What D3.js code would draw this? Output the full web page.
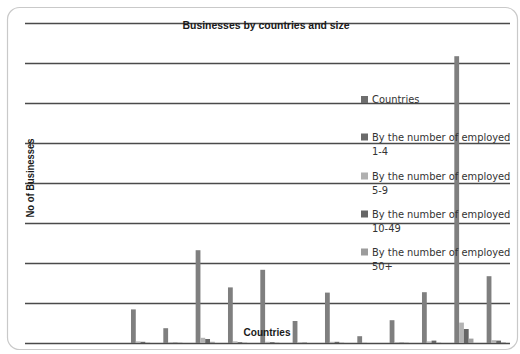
<!DOCTYPE html>
<html>
<head>
<meta charset="utf-8">
<script src="https://cdn.jsdelivr.net/npm/d3@7"></script>
<style>
  html, body { margin: 0; padding: 0; background: #fff; }
  svg { display: block; }
</style>
</head>
<body>
<svg id="chart" width="520" height="354"></svg>
<script>
// Businesses by country and size (values in hundreds of businesses)
const categories = ["1", "2", "3", "4", "5", "6", "7", "8", "9", "10", "11", "12", "13", "14", "15"];
const seriesNames = ["Countries", "By the number of employed 1-4", "By the number of employed 5-9",
                     "By the number of employed 10-49", "By the number of employed 50+"];
const legendLines = [["Countries"], ["By the number of employed", "1-4"], ["By the number of employed", "5-9"],
                     ["By the number of employed", "10-49"], ["By the number of employed", "50+"]];
const countries  = [0, 0, 0, 0, 0, 0, 0, 0, 0, 0, 0, 0, 0, 0, 0];
const emp1to4    = [0, 0, 0, 84, 37, 232, 139, 183, 55, 126, 17, 57, 127, 717, 167];
const emp5to9    = [0, 0, 0, 4, 2, 13, 4, 3, 2, 3, 1, 2, 4, 51, 7];
const emp10to49  = [0, 0, 0, 3, 1, 10, 2, 2, 1, 3, 0, 1, 6, 35, 6];
const emp50plus  = [0, 0, 0, 1, 1, 3, 1, 1, 0, 1, 0, 1, 1, 11, 2];
const gridTicks  = [0, 100, 200, 300, 400, 500, 600, 700, 800];

const seriesValues = [countries, emp1to4, emp5to9, emp10to49, emp50plus];
const barColors = ["#6e6e6e", "#7f7f7f", "#b4b4b4", "#666666", "#a0a0a0"];
const legendColors = ["#6e6e6e", "#6a6a6a", "#b0b0b0", "#666666", "#9c9c9c"];

const svg = d3.select("#chart");

// outer frame
svg.append("rect")
  .attr("x", 7.5).attr("y", 7.5).attr("width", 510).attr("height", 342)
  .attr("rx", 12).attr("ry", 12)
  .attr("fill", "#fff").attr("stroke", "#c9c9c9").attr("stroke-width", 1.2);

const x0 = d3.scaleBand().domain(categories).range([25, 510]).padding(0);
const x1 = d3.scaleBand().domain(d3.range(seriesNames.length))
  .range([4.2, x0.bandwidth() - 4.2]).padding(0);
const y = d3.scaleLinear().domain([0, 800]).range([343, 23]);

// horizontal gridlines
svg.append("g").selectAll("line").data(gridTicks).join("line")
  .attr("x1", 25).attr("x2", 510)
  .attr("y1", d => Math.round(y(d)) + 0.5).attr("y2", d => Math.round(y(d)) + 0.5)
  .attr("stroke", "#4a4a4a").attr("stroke-width", 1.3);

// clustered bars
const groups = svg.append("g").selectAll("g").data(categories).join("g")
  .attr("transform", c => `translate(${x0(c)},0)`);
groups.selectAll("rect")
  .data((c, ci) => seriesValues.map((vals, si) => ({ si, v: vals[ci] })))
  .join("rect")
  .attr("x", d => x1(d.si))
  .attr("width", x1.bandwidth())
  .attr("y", d => y(d.v))
  .attr("height", d => y(0) - y(d.v))
  .attr("fill", d => barColors[d.si]);

// title
svg.append("text")
  .attr("x", 266).attr("y", 28.5).attr("text-anchor", "middle")
  .attr("font-family", "Liberation Sans, Arial, sans-serif").attr("font-weight", "bold")
  .attr("font-size", 10).attr("fill", "#1a1a1a")
  .attr("textLength", 167).attr("lengthAdjust", "spacingAndGlyphs")
  .text("Businesses by countries and size");

// axis titles
svg.append("text")
  .attr("transform", "translate(34,178) rotate(-90)").attr("text-anchor", "middle")
  .attr("font-family", "Liberation Sans, Arial, sans-serif").attr("font-weight", "bold")
  .attr("font-size", 10).attr("fill", "#1a1a1a")
  .attr("textLength", 79).attr("lengthAdjust", "spacingAndGlyphs")
  .text("No of Businesses");
svg.append("text")
  .attr("x", 267).attr("y", 336).attr("text-anchor", "middle")
  .attr("font-family", "Liberation Sans, Arial, sans-serif").attr("font-weight", "bold")
  .attr("font-size", 10).attr("fill", "#1a1a1a")
  .attr("textLength", 47).attr("lengthAdjust", "spacingAndGlyphs")
  .text("Countries");

// legend, drawn on top of the plot area
const legend = svg.append("g").selectAll("g").data(seriesNames).join("g")
  .attr("transform", (d, i) => `translate(361,${[99.5, 137, 176, 214, 252][i]})`);
legend.append("rect")
  .attr("x", 0).attr("y", -3.5).attr("width", 7).attr("height", 7)
  .attr("fill", (d, i) => legendColors[i]);
legend.each(function (d, i) {
  const t = d3.select(this).append("text")
    .attr("font-family", "DejaVu Sans, sans-serif").attr("font-size", 9.9)
    .attr("fill", "#333");
  legendLines[i].forEach((line, li) => {
    t.append("tspan").attr("x", 11).attr("y", 3.8 + li * 14).text(line);
  });
});
</script>
</body>
</html>
